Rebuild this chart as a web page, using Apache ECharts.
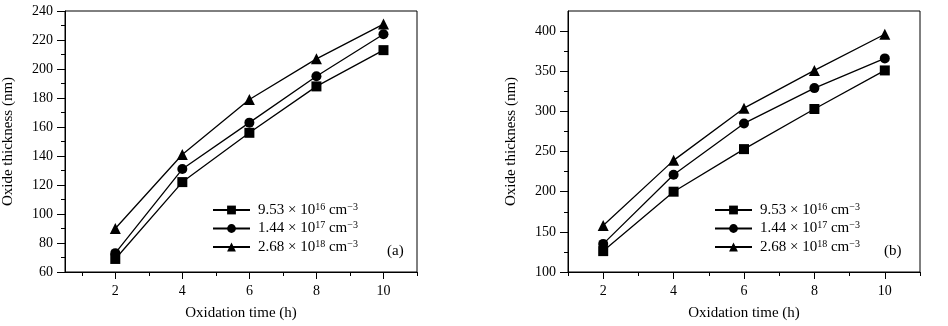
<!DOCTYPE html>
<html><head><meta charset="utf-8">
<script src="https://cdn.jsdelivr.net/npm/echarts@6/dist/echarts.min.js"></script>
<style>html,body{margin:0;padding:0;background:#fff}#c{width:948px;height:326px}</style>
</head><body><div id="c"></div>
<script>
// Data
const times = [2, 4, 6, 8, 10];
const seriesNames = ['9.53 × 10^16 cm^-3', '1.44 × 10^17 cm^-3', '2.68 × 10^18 cm^-3'];
const seriesSymbols = ['rect', 'circle', 'triangle'];
// Panel (a)
const a_low = [69, 122, 156, 188, 213];
const a_mid = [73, 131, 163, 195, 224];
const a_high = [90, 141, 179, 207, 231];
// Panel (b)
const b_low = [126, 200, 253, 303, 351];
const b_mid = [135, 221, 285, 329, 366];
const b_high = [158, 239, 304, 351, 396];
// Ticks
const xMajor = [2, 4, 6, 8, 10];
const xMinor = [1, 3, 5, 7, 9, 11];
const aYMajor = [60, 80, 100, 120, 140, 160, 180, 200, 220, 240];
const aYMinor = [70, 90, 110, 130, 150, 170, 190, 210, 230];
const bYMajor = [100, 150, 200, 250, 300, 350, 400];
const bYMinor = [125, 175, 225, 275, 325, 375];

const FONT = 'Liberation Serif';
const chart = echarts.init(document.getElementById('c'));

function pairs(vals) { return times.map((t, i) => [t, vals[i]]); }
function xMain(gi, min, max, title) {
  return {
    type: 'value', gridIndex: gi, min: min, max: max, position: 'bottom',
    name: title, nameLocation: 'middle', nameGap: 34,
    nameTextStyle: { fontFamily: FONT, fontSize: 15, color: '#000' },
    axisLine: { show: true, lineStyle: { color: '#000', width: 1 } },
    axisTick: { show: true, inside: false, length: 7, customValues: xMajor, lineStyle: { color: '#000' } },
    axisLabel: { show: true, customValues: xMajor, margin: 12, fontFamily: FONT, fontSize: 14, color: '#000' },
    splitLine: { show: false }
  };
}
function xMin(gi, min, max) {
  return {
    type: 'value', gridIndex: gi, min: min, max: max, position: 'bottom',
    axisLine: { show: false },
    axisTick: { show: true, inside: false, length: 4, customValues: xMinor, lineStyle: { color: '#000' } },
    axisLabel: { show: false }, splitLine: { show: false }
  };
}
function yMain(gi, min, max, major) {
  return {
    type: 'value', gridIndex: gi, min: min, max: max, position: 'left',
    name: 'Oxide thickness (nm)', nameLocation: 'middle', nameGap: 49, nameRotate: 90,
    nameTextStyle: { fontFamily: FONT, fontSize: 15, color: '#000' },
    axisLine: { show: true, lineStyle: { color: '#000', width: 1 } },
    axisTick: { show: true, inside: false, length: 8, customValues: major, lineStyle: { color: '#000' } },
    axisLabel: { show: true, customValues: major, margin: 12, fontFamily: FONT, fontSize: 14, color: '#000' },
    splitLine: { show: false }
  };
}
function yMin(gi, min, max, minor) {
  return {
    type: 'value', gridIndex: gi, min: min, max: max, position: 'left',
    axisLine: { show: false },
    axisTick: { show: true, inside: false, length: 4, customValues: minor, lineStyle: { color: '#000' } },
    axisLabel: { show: false }, splitLine: { show: false }
  };
}
function mk(name, sym, xi, yi, vals) {
  return {
    type: 'line', name: name, xAxisIndex: xi, yAxisIndex: yi, data: pairs(vals),
    symbol: sym, symbolSize: sym === 'triangle' ? 11 : 10,
    lineStyle: { color: '#000', width: 1.3 }, itemStyle: { color: '#000' },
    animation: false, z: 5
  };
}
const rich = {
  n: { fontFamily: FONT, fontSize: 15, color: '#000', lineHeight: 16 },
  s: { fontFamily: FONT, fontSize: 10, color: '#000', lineHeight: 16, verticalAlign: 'top' }
};
function fmt(name) {
  const m = name.match(/^(.*) × 10\^(\d+) cm\^(.*)$/);
  return '{n|' + m[1] + ' × 10}{s|' + m[2] + '}{n| cm}{s|' + m[3].replace('-', '−') + '}';
}
function legend(left, names) {
  return {
    left: left, top: 202, orient: 'vertical', data: names, padding: 0,
    itemWidth: 37, itemHeight: 11, itemGap: 3, selectedMode: false,
    formatter: fmt, textStyle: { rich: rich, padding: [0, 0, 0, 3] }
  };
}

chart.setOption({
  animation: false,
  backgroundColor: '#fff',
  grid: [
    { left: 65, top: 11, width: 352, height: 261, show: true, borderColor: '#000', borderWidth: 1, backgroundColor: 'transparent' },
    { left: 568, top: 11, width: 352, height: 261, show: true, borderColor: '#000', borderWidth: 1, backgroundColor: 'transparent' }
  ],
  xAxis: [
    xMain(0, 0.5, 11, 'Oxidation time (h)'), xMin(0, 0.5, 11),
    xMain(1, 1, 11, 'Oxidation time (h)'), xMin(1, 1, 11)
  ],
  yAxis: [
    yMain(0, 60, 240, aYMajor), yMin(0, 60, 240, aYMinor),
    yMain(1, 100, 425, bYMajor), yMin(1, 100, 425, bYMinor)
  ],
  legend: [legend(212, seriesNames), legend(714, seriesNames)],
  series: [
    mk(seriesNames[0], seriesSymbols[0], 0, 0, a_low),
    mk(seriesNames[1], seriesSymbols[1], 0, 0, a_mid),
    mk(seriesNames[2], seriesSymbols[2], 0, 0, a_high),
    mk(seriesNames[0], seriesSymbols[0], 2, 2, b_low),
    mk(seriesNames[1], seriesSymbols[1], 2, 2, b_mid),
    mk(seriesNames[2], seriesSymbols[2], 2, 2, b_high)
  ],
  graphic: [
    { type: 'text', left: 387, top: 244, style: { text: '(a)', font: '15px "Liberation Serif"', fill: '#000' } },
    { type: 'text', left: 884, top: 244, style: { text: '(b)', font: '15px "Liberation Serif"', fill: '#000' } }
  ]
});
</script></body></html>
